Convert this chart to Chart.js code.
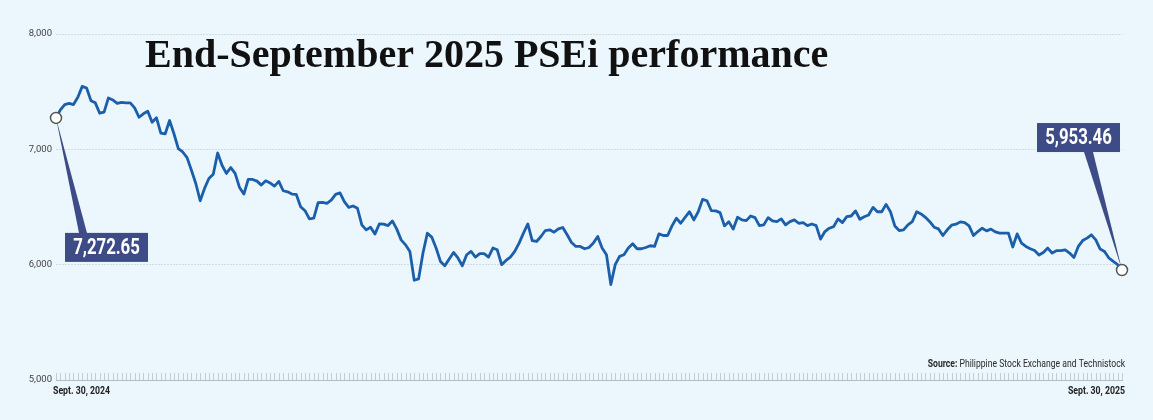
<!DOCTYPE html>
<html>
<head>
<meta charset="utf-8">
<script src="https://cdn.jsdelivr.net/npm/chart.js@4.4.0/dist/chart.umd.min.js"></script>
<style>
  html, body { margin: 0; padding: 0; background: #ebf6fd; }
  #wrap { width: 1153px; height: 420px; }
</style>
</head>
<body>
<div id="wrap"><canvas id="pseiChart" width="1153" height="420"></canvas></div>
<script>
// PSEi closes, daily, Sept. 30, 2024 -> Sept. 30, 2025
const psei = [
  7272.65, 7342, 7388, 7399, 7388, 7451, 7546, 7532, 7422, 7403,
  7313, 7322, 7446, 7428, 7399, 7408, 7403, 7403, 7359, 7278,
  7308, 7330, 7235, 7273, 7141, 7135, 7250, 7135, 7006, 6977,
  6928, 6819, 6704, 6554, 6661, 6747, 6784, 6968, 6862, 6791,
  6842, 6791, 6670, 6612, 6739, 6739, 6724, 6690,
  6727, 6709, 6681, 6722, 6641, 6632, 6612, 6609, 6503, 6468,
  6397, 6403, 6537, 6541, 6532, 6560, 6609, 6623, 6546, 6497,
  6509, 6489, 6345, 6302, 6325, 6265, 6353, 6351, 6339, 6379,
  6308, 6215, 6172, 6115, 5865, 5877, 6101, 6273, 6239, 6144,
  6028, 5991, 6049, 6106, 6058, 5991, 6086, 6115, 6066,
  6095, 6095, 6066, 6144, 6129, 6000, 6037, 6066, 6115, 6187,
  6273, 6353, 6209, 6201, 6244, 6296, 6302, 6282, 6310, 6322,
  6259, 6192, 6158, 6158, 6138, 6149, 6187, 6244, 6144, 6086,
  5828, 6000, 6072, 6086, 6144, 6181, 6138, 6138, 6149, 6164,
  6158, 6267, 6253, 6253, 6336, 6403, 6359, 6411, 6459, 6388,
  6459, 6566, 6554, 6468, 6466, 6451, 6336, 6373, 6308, 6411,
  6388, 6382, 6422, 6408, 6339, 6345, 6408, 6379, 6373, 6397,
  6345, 6373, 6388, 6359, 6365, 6339, 6353, 6339, 6222, 6287,
  6316, 6330, 6397, 6365, 6416, 6422, 6466, 6394, 6416, 6431,
  6497, 6459, 6459, 6523, 6459, 6336, 6296, 6302, 6345,
  6373, 6459, 6440, 6411, 6373, 6325, 6310, 6253, 6302, 6342,
  6351, 6371, 6365, 6336, 6253, 6287, 6316, 6293, 6308, 6284,
  6273, 6273, 6273, 6153, 6267, 6187, 6158, 6138, 6123, 6084,
  6106, 6144, 6101, 6121, 6121, 6129, 6101, 6063, 6158, 6209,
  6230, 6259, 6215, 6135, 6115, 6058, 6028, 6000, 5953.46
];
const xTickLabels = ['Sept. 30, 2024', 'Sept. 30, 2025'];
const yTicks = [5000, 6000, 7000, 8000];
const titleText = 'End-September 2025 PSEi performance';
const sourceLabel = 'Source:';
const sourceText = ' Philippine Stock Exchange and Technistock';

const last = psei.length - 1;
const days = psei.map((v, i) => 'd' + i);   // one category per trading day

const sans = 'Roboto, "Liberation Sans", sans-serif';
const navy = '#3d4b86';

function fmt(v) {
  return v.toLocaleString('en-US', { minimumFractionDigits: 2, maximumFractionDigits: 2 });
}

// the original uses a condensed face; squeeze Roboto horizontally instead
function narrowText(ctx, text, x, y, align, sx) {
  ctx.save();
  ctx.translate(x, y);
  ctx.scale(sx, 1);
  ctx.textAlign = align;
  ctx.fillText(text, 0, 0);
  ctx.restore();
}

function callout(ctx, px, py, side, text) {
  const sx = 0.78;
  ctx.font = 'bold 21.5px ' + sans;
  const w = Math.round(ctx.measureText(text).width * sx) + 16;
  const h = 29;
  let bx, by, b0, b1, edge;
  if (side === 'left') {
    bx = px + 9; by = py + 115;
    b0 = bx + 14; b1 = bx + 22; edge = by;
  } else {
    bx = px - 2 - w; by = py - 147;
    b0 = bx + w - 36; b1 = bx + w - 27; edge = by + h;
  }
  ctx.fillStyle = navy;
  ctx.beginPath();
  ctx.moveTo(px, py);
  ctx.lineTo(b0, edge);
  ctx.lineTo(b1, edge);
  ctx.closePath();
  ctx.fill();
  ctx.fillRect(bx, by, w, h);
  ctx.fillStyle = '#ffffff';
  ctx.textBaseline = 'middle';
  narrowText(ctx, text, bx + w / 2, by + h / 2 + 1, 'center', sx);
}

const overlay = {
  id: 'overlay',
  beforeDatasetsDraw(chart) {
    const { ctx, chartArea, scales: { x } } = chart;
    ctx.save();
    // small day ticks sitting on the axis
    ctx.strokeStyle = '#c3ccd4';
    ctx.lineWidth = 1;
    psei.forEach((v, i) => {
      const tx = Math.round(x.getPixelForValue(i)) + 0.5;
      ctx.beginPath();
      ctx.moveTo(tx, chartArea.bottom - 7);
      ctx.lineTo(tx, chartArea.bottom);
      ctx.stroke();
    });
    // first / last date under the axis
    ctx.fillStyle = '#222222';
    ctx.font = 'bold 11.5px ' + sans;
    ctx.textBaseline = 'middle';
    narrowText(ctx, xTickLabels[0], x.getPixelForValue(0) - 3, chartArea.bottom + 11, 'left', 0.76);
    narrowText(ctx, xTickLabels[1], x.getPixelForValue(last) + 3, chartArea.bottom + 11, 'right', 0.76);

    const meta = chart.getDatasetMeta(0);
    const p0 = meta.data[0], p1 = meta.data[last];
    callout(ctx, p0.x, p0.y, 'left', fmt(psei[0]));
    callout(ctx, p1.x, p1.y, 'right', fmt(psei[last]));
    ctx.restore();
  },
  afterDraw(chart) {
    const { ctx, chartArea } = chart;
    ctx.save();
    ctx.fillStyle = '#111111';
    ctx.textAlign = 'left';
    ctx.textBaseline = 'alphabetic';
    ctx.font = 'bold 40px "Liberation Serif", "DejaVu Serif", serif';
    ctx.fillText(titleText, 145, 67);

    // source line, right aligned with the plot
    const sx = 0.82;
    const right = chartArea.right + 3;
    ctx.font = '10.5px ' + sans;
    const wRest = ctx.measureText(sourceText).width * sx;
    ctx.font = 'bold 10.5px ' + sans;
    const wLab = ctx.measureText(sourceLabel).width * sx;
    ctx.fillStyle = '#2a2a2a';
    narrowText(ctx, sourceLabel, right - wRest - wLab, 367, 'left', sx);
    ctx.font = '10.5px ' + sans;
    narrowText(ctx, sourceText, right - wRest, 367, 'left', sx);
    ctx.restore();
  }
};

const ctx = document.getElementById('pseiChart').getContext('2d');
const myChart = new Chart(ctx, {
  type: 'line',
  data: {
    labels: days,
    datasets: [{
      data: psei,
      borderColor: '#1b5fab',
      borderWidth: 2.8,
      tension: 0,
      borderJoinStyle: 'round',
      pointRadius: c => (c.dataIndex === 0 || c.dataIndex === last) ? 5.5 : 0,
      pointBackgroundColor: '#ffffff',
      pointBorderColor: '#555555',
      pointBorderWidth: 1.5
    }]
  },
  options: {
    responsive: false,
    animation: false,
    layout: { padding: { left: 0, right: 31, top: 34, bottom: 0 } },
    plugins: { legend: { display: false }, tooltip: { enabled: false } },
    scales: {
      x: {
        offset: false,
        grid: { display: false, drawTicks: false },
        border: { color: '#b3bcc5', width: 1 },
        ticks: { display: false },
        afterFit: s => { s.height = 40; }
      },
      y: {
        min: yTicks[0],
        max: yTicks[yTicks.length - 1],
        afterBuildTicks: s => { s.ticks = yTicks.map(v => ({ value: v })); },
        grid: { color: '#d2dbe2', drawTicks: false },
        border: { display: false, dash: [2, 1] },
        ticks: {
          padding: 4,
          color: '#444444',
          font: { family: sans, size: 9.5 },
          callback: v => v.toLocaleString('en-US')
        },
        afterFit: s => { s.width = 56; }
      }
    }
  },
  plugins: [overlay]
});
</script>
</body>
</html>
